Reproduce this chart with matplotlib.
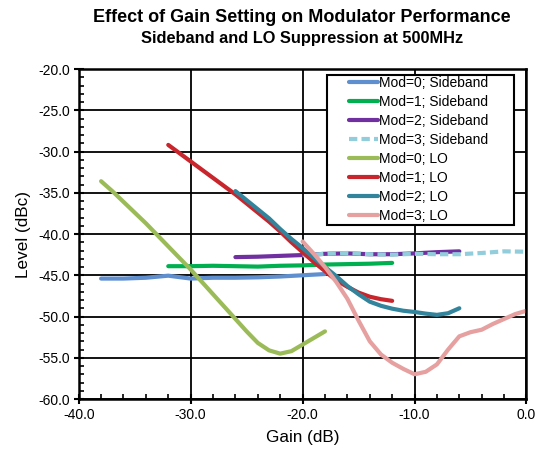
import matplotlib
matplotlib.use("Agg")
import matplotlib.pyplot as plt
from matplotlib.patches import Rectangle
from matplotlib.ticker import MultipleLocator, FormatStrFormatter

plt.rcParams['font.family'] = ['Liberation Sans', 'DejaVu Sans']

# ---- data ----
sb0_x = [-38, -36, -34, -32, -30, -28, -26, -24, -22, -20, -18]
sb0_y = [-45.4, -45.4, -45.3, -45.05, -45.4, -45.3, -45.3, -45.25, -45.15, -45.0, -44.85]

sb1_x = [-32, -30, -28, -26, -24, -22, -20, -18, -16, -14, -12]
sb1_y = [-43.9, -43.9, -43.85, -43.9, -43.95, -43.85, -43.8, -43.7, -43.65, -43.6, -43.5]

sb2_x = [-26, -24, -22, -20, -18, -16, -14, -12, -10, -8, -6]
sb2_y = [-42.8, -42.75, -42.65, -42.55, -42.4, -42.35, -42.45, -42.45, -42.35, -42.2, -42.1]

sb3_x = [-20, -18, -16, -14, -12, -10, -8, -6, -4, -2, 0]
sb3_y = [-42.6, -42.4, -42.3, -42.45, -42.5, -42.4, -42.45, -42.45, -42.3, -42.1, -42.15]

lo0_x = [-38, -37, -36, -35, -34, -33, -32, -31, -30, -29, -28, -27, -26, -25,
         -24, -23, -22, -21, -20, -19, -18]
lo0_y = [-33.6, -34.8, -36.1, -37.4, -38.7, -40.1, -41.5, -42.9, -44.3, -45.8,
         -47.3, -48.8, -50.3, -51.8, -53.2, -54.1, -54.5, -54.2, -53.4, -52.6, -51.8]

lo1_x = [-32, -31, -30, -29, -28, -27, -26, -25, -24, -23, -22, -21, -20, -19,
         -18, -17, -16, -15, -14, -13, -12]
lo1_y = [-29.2, -30.2, -31.2, -32.2, -33.2, -34.2, -35.2, -36.3, -37.4, -38.5,
         -39.7, -41.0, -42.2, -43.4, -44.5, -45.6, -46.4, -47.1, -47.6, -47.9, -48.1]

lo2_x = [-26, -25, -24, -23, -22, -21, -20, -19, -18, -17, -16, -15, -14, -13,
         -12, -11, -10, -9, -8, -7, -6]
lo2_y = [-34.8, -35.9, -37.0, -38.1, -39.4, -40.6, -41.7, -42.9, -44.0, -45.1,
         -46.3, -47.3, -48.2, -48.7, -49.05, -49.3, -49.45, -49.65, -49.8, -49.6, -49.0]

lo3_x = [-20, -19, -18, -17, -16, -15, -14, -13, -12, -11, -10, -9, -8, -7,
         -6, -5, -4, -3, -2, -1, 0]
lo3_y = [-40.9, -42.4, -44.0, -45.8, -47.85, -50.5, -53.0, -54.6, -55.6, -56.35,
         -57.0, -56.7, -55.8, -54.0, -52.4, -51.9, -51.6, -50.9, -50.3, -49.7, -49.3]

series = [
    ("Mod=0; Sideband", sb0_x, sb0_y, "#5F8FCF", "-"),
    ("Mod=1; Sideband", sb1_x, sb1_y, "#00B050", "-"),
    ("Mod=2; Sideband", sb2_x, sb2_y, "#7030A0", "-"),
    ("Mod=3; Sideband", sb3_x, sb3_y, "#92CDDC", (0, (2.0, 1.0))),
    ("Mod=0; LO", lo0_x, lo0_y, "#9BBB59", "-"),
    ("Mod=1; LO", lo1_x, lo1_y, "#C8252C", "-"),
    ("Mod=2; LO", lo2_x, lo2_y, "#31849B", "-"),
    ("Mod=3; LO", lo3_x, lo3_y, "#E6A0A0", "-"),
]

fig = plt.figure(figsize=(5.39, 4.54), dpi=100)
ax = fig.add_axes([0.146, 0.1211, 0.8308, 0.7269])

for label, xs, ys, color, ls in series:
    ax.plot(xs, ys, color=color, lw=3, ls=ls, label=label,
            solid_capstyle='round', solid_joinstyle='round', dash_capstyle='butt')

ax.set_xlim(-40, 0)
ax.set_ylim(-60, -20)
ax.xaxis.set_major_locator(MultipleLocator(10))
ax.xaxis.set_minor_locator(MultipleLocator(2))
ax.yaxis.set_major_locator(MultipleLocator(5))
ax.yaxis.set_minor_locator(MultipleLocator(1))
ax.xaxis.set_major_formatter(FormatStrFormatter('%.1f'))
ax.yaxis.set_major_formatter(FormatStrFormatter('%.1f'))

ax.grid(True, which='major', color='black', lw=1.3)
ax.set_axisbelow(True)
for s in ax.spines.values():
    s.set_linewidth(1.8)
    s.set_color('black')
    s.set_zorder(5)

ax.tick_params(which='major', direction='inout', length=7, width=1.5,
               labelsize=10, colors='black', pad=3)
ax.tick_params(which='minor', direction='in', length=3.5, width=1.2)
ax.tick_params(axis='y', which='both', right=False)
ax.tick_params(axis='x', which='both', top=False)

ax.set_xlabel("Gain (dB)", fontsize=12.3, labelpad=6)
ax.set_ylabel("Level (dBc)", fontsize=12.3, labelpad=5)

# legend frame (wider than the entries, as in the reference)
frame = Rectangle((0.5545, 0.527), 0.4175, 0.455, transform=ax.transAxes,
                  facecolor='white', edgecolor='black', lw=1.5, zorder=9)
ax.add_patch(frame)
leg = ax.legend(loc='upper left', bbox_to_anchor=(0.6036, 0.979), fontsize=10,
                frameon=False, handlelength=2.1, handletextpad=0.05,
                labelspacing=0.36, borderpad=0, borderaxespad=0)
leg.set_zorder(10)

fig.text(0.56, 0.962, "Effect of Gain Setting on Modulator Performance",
         ha='center', va='center', fontsize=13, fontweight='bold')
fig.text(0.56, 0.916, "Sideband and LO Suppression at 500MHz",
         ha='center', va='center', fontsize=11.8, fontweight='bold')

fig.savefig("out.png", dpi=100)
